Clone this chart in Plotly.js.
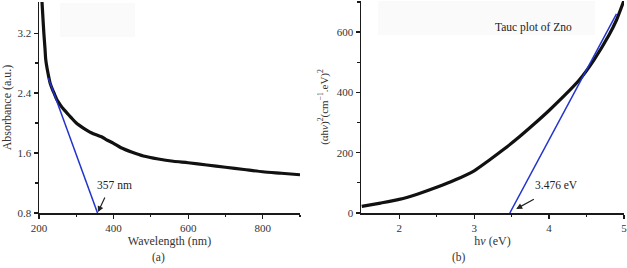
<!DOCTYPE html>
<html>
<head>
<meta charset="utf-8">
<script src="https://cdn.plot.ly/plotly-3.0.1.min.js"></script>
<style>html,body{margin:0;padding:0;background:#fff;}#chart{width:627px;height:268px;}</style>
</head>
<body>
<div id="chart"></div>
<script>
// Panel (a): UV-Vis absorbance
const wavelength = [208, 210, 213, 216, 218, 222, 226, 230, 236, 242, 248, 256, 265, 274, 285, 300, 320, 340, 360, 370, 380, 400, 420, 450, 480, 520, 560, 600, 650, 700, 750, 800, 850, 900];
const absorbance = [3.62, 3.45, 3.2, 3.0, 2.85, 2.72, 2.62, 2.53, 2.45, 2.38, 2.31, 2.25, 2.19, 2.14, 2.08, 2.0, 1.93, 1.87, 1.83, 1.81, 1.78, 1.73, 1.67, 1.61, 1.56, 1.52, 1.49, 1.47, 1.44, 1.41, 1.38, 1.35, 1.33, 1.31];
const tangentA_x = [225, 357];
const tangentA_y = [2.6, 0.8];

// Panel (b): Tauc plot
const photonEnergy = [1.5, 1.75, 2.0, 2.25, 2.5, 2.75, 3.0, 3.2, 3.4, 3.6, 3.8, 4.0, 4.2, 4.4, 4.6, 4.8, 4.9, 5.0];
const taucValue = [22, 33, 45, 63, 85, 110, 140, 175, 212, 252, 295, 340, 388, 440, 508, 590, 640, 705];
const tangentB_x = [3.476, 4.9];
const tangentB_y = [0, 660];

const serif = "Liberation Serif";
const W = 627, H = 268;
const px = v => v / W, py = v => 1 - v / H;

function axisStyle(extra) {
  return Object.assign({
    showline: true, linecolor: '#1a1a1a', linewidth: 1.5,
    ticks: 'outside', ticklen: 4, tickwidth: 1.2, tickcolor: '#1a1a1a',
    showgrid: false, zeroline: false, mirror: false,
    tickfont: {family: serif, size: 11, color: '#333'},
    ticklabeloverflow: 'allow',
    fixedrange: true
  }, extra);
}

const traces = [
  {x: wavelength, y: absorbance, xaxis: 'x', yaxis: 'y', mode: 'lines',
   line: {color: '#111', width: 3.2, shape: 'spline', smoothing: 0.8}, hoverinfo: 'skip', cliponaxis: true},
  {x: tangentA_x, y: tangentA_y, xaxis: 'x', yaxis: 'y', mode: 'lines',
   line: {color: '#2233cc', width: 1.5}, hoverinfo: 'skip'},
  {x: photonEnergy, y: taucValue, xaxis: 'x2', yaxis: 'y2', mode: 'lines',
   line: {color: '#111', width: 3.2, shape: 'spline', smoothing: 0.6}, hoverinfo: 'skip'},
  {x: tangentB_x, y: tangentB_y, xaxis: 'x2', yaxis: 'y2', mode: 'lines',
   line: {color: '#2233cc', width: 1.5}, hoverinfo: 'skip'}
];

function label(x, y, text, size, color) {
  return {xref: 'paper', yref: 'paper', x: px(x), y: py(y), text: text, showarrow: false,
    xanchor: 'center', yanchor: 'middle', font: {family: serif, size: size, color: color}};
}

const layout = {
  width: W, height: H,
  margin: {l: 0, r: 0, t: 0, b: 0},
  paper_bgcolor: '#fff', plot_bgcolor: 'rgba(0,0,0,0)',
  showlegend: false,
  font: {family: serif},
  xaxis: axisStyle({domain: [px(39), px(300)], range: [200, 900], anchor: 'y',
    tickvals: [200, 400, 600, 800],
    minor: {tickvals: [300, 500, 700, 900], ticks: 'outside', ticklen: 2.5, tickcolor: '#1a1a1a'},
    title: {text: 'Wavelength (nm)', font: {family: serif, size: 12, color: '#333'}, standoff: 4}}),
  yaxis: axisStyle({domain: [py(213), py(2)], range: [0.8, 3.615], anchor: 'x',
    tickvals: [0.8, 1.6, 2.4, 3.2], ticktext: ['0.8', '1.6', '2.4', '3.2'],
    minor: {tickvals: [1.2, 2.0, 2.8], ticks: 'outside', ticklen: 2.5, tickcolor: '#1a1a1a'},
    title: {text: 'Absorbance (a.u.)', font: {family: serif, size: 12, color: '#333'}, standoff: 6}}),
  xaxis2: axisStyle({domain: [px(361), px(624)], range: [1.49, 5.0], anchor: 'y2',
    tickvals: [2, 3, 4, 5],
    minor: {tickvals: [2.5, 3.5, 4.5], ticks: 'outside', ticklen: 2.5, tickcolor: '#1a1a1a'},
    title: {text: 'h<i>ν</i> (eV)', font: {family: serif, size: 12, color: '#333'}, standoff: 4}}),
  yaxis2: axisStyle({domain: [py(213), py(1)], range: [0, 703], anchor: 'x2',
    tickvals: [0, 200, 400, 600],
    minor: {tickvals: [100, 300, 500, 700], ticks: 'outside', ticklen: 2.5, tickcolor: '#1a1a1a'},
    title: {text: '(αh<i>ν</i>)<sup>2</sup>(cm<sup>−1</sup>.eV)<sup>2</sup>', font: {family: serif, size: 11, color: '#333'}, standoff: 6}}),
  shapes: [
    {type: 'rect', xref: 'paper', yref: 'paper', x0: px(60), x1: px(135), y0: py(37), y1: py(3),
     fillcolor: '#fafafa', line: {width: 0}, layer: 'below'},
    {type: 'rect', xref: 'paper', yref: 'paper', x0: px(378), x1: px(595), y0: py(35), y1: py(1),
     fillcolor: '#fafafa', line: {width: 0}, layer: 'below'}
  ],
  annotations: [
    label(158, 257, '(a)', 11.5, '#333'),
    label(459, 257, '(b)', 11.5, '#333'),
    label(533, 27, 'Tauc plot of Zno', 11.5, '#222'),
    label(114, 185, '357 nm', 11.5, '#222'),
    label(556, 185, '3.476 eV', 11.5, '#222'),
    {xref: 'x', yref: 'y', x: 357, y: 0.8, ax: 8, ay: -17, text: '', showarrow: true,
     arrowhead: 2, arrowsize: 1, arrowwidth: 1.2, arrowcolor: '#222', standoff: 1},
    {xref: 'x2', yref: 'y2', x: 3.55, y: 12, ax: 20, ay: -11, text: '', showarrow: true,
     arrowhead: 2, arrowsize: 1, arrowwidth: 1.2, arrowcolor: '#222', standoff: 1}
  ]
};

Plotly.newPlot('chart', traces, layout, {staticPlot: true, displayModeBar: false});
</script>
</body>
</html>
